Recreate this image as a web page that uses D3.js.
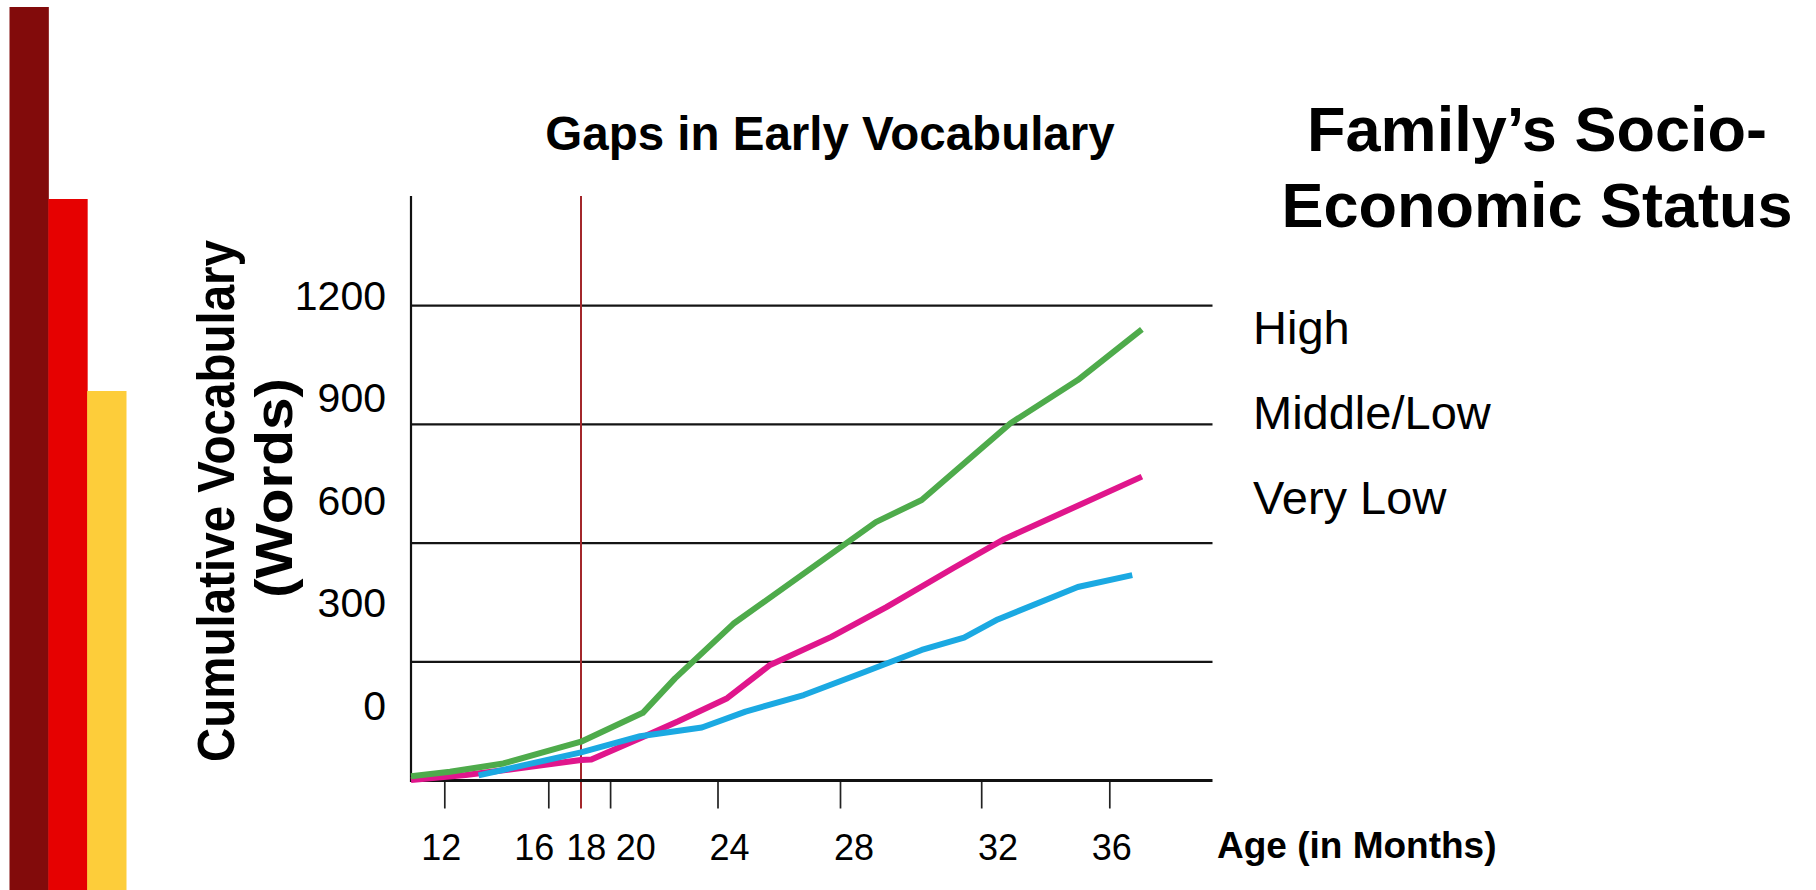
<!DOCTYPE html>
<html>
<head>
<meta charset="utf-8">
<script src="https://cdn.jsdelivr.net/npm/d3@7"></script>
<style>
  html, body { margin: 0; padding: 0; background: #ffffff; }
  svg { display: block; font-family: "Liberation Sans", Arial, Helvetica, sans-serif; }
</style>
</head>
<body>
<svg id="chart" width="1816" height="890"></svg>
<script>
// ---------------- data ----------------
const xTickMonths = [12, 16, 18, 20, 24, 28, 32, 36];
const xTickLabels = ["12", "16", "18", "20", "24", "28", "32", "36"];
const yTickValues = [0, 300, 600, 900, 1200];
const yTickLabels = ["0", "300", "600", "900", "1200"];
const markerMonth = 18;

const seriesNames = ["High", "Middle/Low", "Very Low"];

const highMonths = [10.7, 12.2, 14.25, 18, 21.2, 22.4, 24.5, 29, 30.3, 32.9, 35, 37];
const highWords  = [11, 22, 43, 98, 171, 258, 396, 653, 709, 903, 1012, 1140];

const midMonths  = [10.7, 12.8, 14.5, 18, 18.7, 21.1, 22.5, 24.3, 25.7, 27.7, 29.3, 31.2, 32.7, 37];
const midWords   = [1, 14, 28, 52, 53, 107, 149, 208, 292, 363, 438, 537, 610, 768];

const lowMonths  = [13.3, 18, 21.1, 23.4, 24.9, 26.8, 28.7, 30.3, 31.5, 32.5, 35, 36.7];
const lowWords   = [13, 71, 112, 134, 174, 216, 275, 330, 361, 407, 489, 519];

// ---------------- layout ----------------
const W = 1816, H = 890;
const xAxisStart = 10.7, xAxisEnd = 39.2, yAxisTopValue = 1477;
const xStops = [411, 444.8, 548.8, 581, 610.6, 718, 840.5, 981.7, 1109.8, 1212.5];
const xLabelStops = [441.3, 534.2, 586.2, 635.7, 729.6, 854, 998, 1111.7];
const colors = { "High": "#4eab4b", "Middle/Low": "#e0168c", "Very Low": "#1ba9e2" };

const svg = d3.select("#chart");

// decorative slide stripes
const stripeKeys = ["dark", "red", "yellow"];
const stripeColor = { dark: "#820b0b", red: "#e60101", yellow: "#fdcd3a" };
const stripeTop = { dark: 7, red: 199, yellow: 391 };
const stripeX = d3.scaleBand().domain(stripeKeys).range([9.5, 126]).paddingInner(0).paddingOuter(0);
svg.append("g").selectAll("rect").data(stripeKeys).join("rect")
  .attr("x", d => stripeX(d)).attr("width", stripeX.bandwidth() + 0.5)
  .attr("y", d => stripeTop[d]).attr("height", d => H - stripeTop[d])
  .attr("fill", d => stripeColor[d]);

// scales
const x = d3.scaleLinear()
  .domain([xAxisStart, ...xTickMonths, xAxisEnd])
  .range(xStops);
const y = d3.scaleLinear().domain([0, 1200]).range([780.5, 305.7]);
const yLabel = d3.scaleLinear().domain([0, 1200]).range([705, 295]);
const xLabel = d3.scaleLinear().domain(xTickMonths).range(xLabelStops);

const g = svg.append("g");

// gridlines
g.selectAll("line.grid").data(yTickValues.filter(v => v > 0)).join("line")
  .attr("class", "grid")
  .attr("x1", x(xAxisStart)).attr("x2", x(xAxisEnd))
  .attr("y1", d => y(d)).attr("y2", d => y(d))
  .attr("stroke", "#141414").attr("stroke-width", 2.2);

// x ticks (not at marker)
g.selectAll("line.tick").data(xTickMonths.filter(m => m !== markerMonth)).join("line")
  .attr("class", "tick")
  .attr("x1", d => x(d)).attr("x2", d => x(d))
  .attr("y1", y(0)).attr("y2", y(0) + 28)
  .attr("stroke", "#222").attr("stroke-width", 1.7);

// marker line at 18 months
g.append("line")
  .attr("x1", x(markerMonth)).attr("x2", x(markerMonth))
  .attr("y1", y(yAxisTopValue)).attr("y2", y(0) + 28)
  .attr("stroke", "#a3272b").attr("stroke-width", 2);

// axes lines
g.append("line")
  .attr("x1", x(xAxisStart)).attr("x2", x(xAxisStart))
  .attr("y1", y(yAxisTopValue)).attr("y2", y(0) + 1.5)
  .attr("stroke", "#111").attr("stroke-width", 2.2);
g.append("line")
  .attr("x1", x(xAxisStart) - 1).attr("x2", x(xAxisEnd))
  .attr("y1", y(0)).attr("y2", y(0))
  .attr("stroke", "#111").attr("stroke-width", 3);

// series
const series = [
  { name: "Middle/Low", months: midMonths, words: midWords },
  { name: "Very Low", months: lowMonths, words: lowWords },
  { name: "High", months: highMonths, words: highWords }
];
const line = d3.line().x(d => x(d[0])).y(d => y(d[1]));
g.selectAll("path.series").data(series).join("path")
  .attr("class", "series")
  .attr("d", s => line(s.months.map((m, i) => [m, s.words[i]])))
  .attr("fill", "none")
  .attr("stroke", s => colors[s.name])
  .attr("stroke-width", 6)
  .attr("stroke-linejoin", "round");

// y tick labels
g.selectAll("text.ylab").data(yTickValues).join("text")
  .attr("class", "ylab")
  .attr("x", 386).attr("y", d => yLabel(d)).attr("dy", "0.358em")
  .attr("text-anchor", "end")
  .attr("font-size", 41).attr("fill", "#000")
  .text((d, i) => yTickLabels[i]);

// x tick labels
g.selectAll("text.xlab").data(xTickMonths).join("text")
  .attr("class", "xlab")
  .attr("x", d => xLabel(d)).attr("y", 846.7).attr("dy", "0.358em")
  .attr("text-anchor", "middle")
  .attr("font-size", 36).attr("fill", "#000")
  .text((d, i) => xTickLabels[i]);

// x axis title
svg.append("text")
  .attr("x", 1217).attr("y", 858)
  .attr("font-size", 37).attr("font-weight", "bold").attr("fill", "#000")
  .text("Age (in Months)");

// y axis title
const yt = svg.append("text")
  .attr("transform", "rotate(-90)")
  .attr("text-anchor", "middle")
  .attr("font-size", 51).attr("font-weight", "bold").attr("fill", "#000");
yt.append("tspan").attr("x", -501).attr("y", 234)
  .attr("textLength", 522).attr("lengthAdjust", "spacingAndGlyphs")
  .text("Cumulative Vocabulary");
yt.append("tspan").attr("x", -488).attr("y", 292)
  .attr("textLength", 220).attr("lengthAdjust", "spacingAndGlyphs")
  .text("(Words)");

// chart title
svg.append("text")
  .attr("x", 830).attr("y", 150)
  .attr("text-anchor", "middle")
  .attr("font-size", 47.5).attr("font-weight", "bold").attr("fill", "#000")
  .text("Gaps in Early Vocabulary");

// legend title
const lt = svg.append("text")
  .attr("text-anchor", "middle")
  .attr("font-size", 63).attr("font-weight", "bold").attr("fill", "#000");
lt.append("tspan").attr("x", 1537).attr("y", 151).text("Family\u2019s Socio-");
lt.append("tspan").attr("x", 1537).attr("y", 227).text("Economic Status");

// legend entries
const legendBaselines = d3.scalePoint().domain(seriesNames).range([344, 514]);
svg.selectAll("text.leg").data(seriesNames).join("text")
  .attr("class", "leg")
  .attr("x", 1253).attr("y", d => legendBaselines(d))
  .attr("font-size", 47).attr("fill", "#000")
  .text(d => d);
</script>
</body>
</html>
